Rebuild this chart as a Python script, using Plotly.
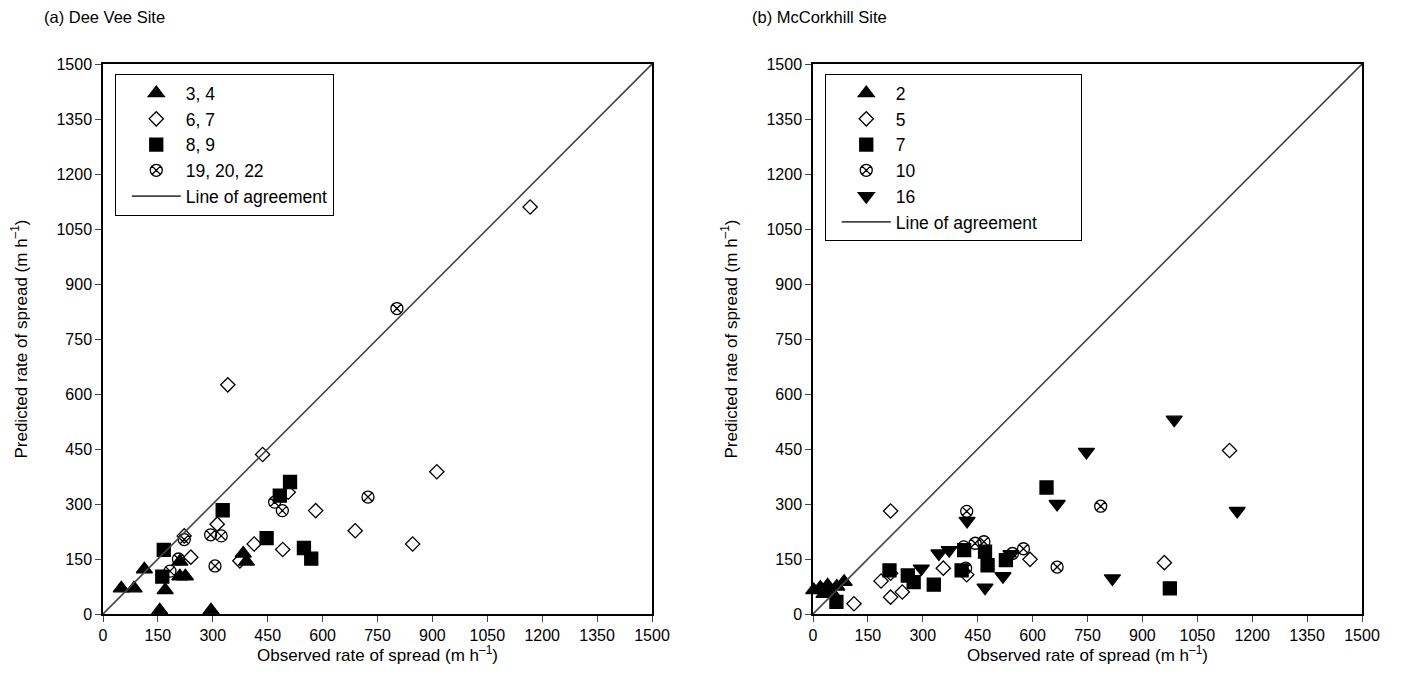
import plotly.graph_objects as go

# ---------------- data: (a) Dee Vee Site ----------------
a_tri_x = [50, 85, 113, 155, 170, 210, 210, 225, 295, 383, 392]
a_tri_y = [70, 70, 122, 10, 65, 143, 103, 103, 10, 165, 143]
a_dia_x = [436, 506, 581, 312, 240, 222, 413, 491, 374, 689, 846, 912, 1167, 341]
a_dia_y = [435, 332, 282, 245, 155, 213, 191, 176, 145, 227, 191, 388, 1110, 625]
a_sq_x = [511, 483, 327, 447, 549, 569, 166, 162]
a_sq_y = [360, 323, 283, 207, 180, 151, 175, 102]
a_cx_x = [222, 206, 183, 294, 323, 306, 469, 490, 724, 803]
a_cx_y = [203, 150, 117, 216, 213, 131, 305, 282, 319, 833]

# ---------------- data: (b) McCorkhill Site ----------------
b_tri_x = [2, 20, 40, 30, 65, 85, 50]
b_tri_y = [65, 72, 78, 55, 75, 88, 60]
b_dia_x = [186, 212, 244, 112, 212, 212, 356, 420, 593, 1138, 960]
b_dia_y = [90, 46, 60, 28, 111, 281, 125, 107, 149, 446, 140]
b_sq_x = [64, 209, 259, 275, 330, 413, 406, 470, 477, 527, 638, 975]
b_sq_y = [33, 119, 105, 87, 80, 174, 119, 170, 133, 147, 345, 70]
b_cx_x = [420, 412, 443, 467, 417, 545, 575, 667, 786]
b_cx_y = [280, 183, 193, 197, 125, 165, 178, 128, 294]
b_td_x = [296, 344, 372, 421, 470, 519, 541, 667, 747, 987, 1159, 818]
b_td_y = [124, 165, 174, 254, 72, 103, 163, 300, 442, 530, 281, 97]

agree = [0, 1500]
ticks = [0, 150, 300, 450, 600, 750, 900, 1050, 1200, 1350, 1500]

FONT = "Liberation Sans, Arial, sans-serif"
NB = "\u00a0"
fig = go.Figure()

def add(x, y, name, symbol, size, xa, ya, leg, lw=1.3):
    fig.add_trace(go.Scatter(
        x=x, y=y, mode="markers", name=name, xaxis=xa, yaxis=ya, legend=leg,
        marker=dict(symbol=symbol, size=size, color="black",
                    line=dict(color="black", width=lw)),
        cliponaxis=False))

def add_line(xa, ya, leg, name):
    fig.add_trace(go.Scatter(
        x=agree, y=agree, mode="lines", name=name,
        xaxis=xa, yaxis=ya, legend=leg,
        line=dict(color="#444444", width=1.6)))

add(a_tri_x, a_tri_y, "3, 4", "triangle-up", 14, "x", "y", "legend")
add(a_dia_x, a_dia_y, "6, 7", "diamond-open", 11, "x", "y", "legend")
add(a_sq_x, a_sq_y, "8, 9", "square", 13, "x", "y", "legend")
add(a_cx_x, a_cx_y, "19, 20, 22", "circle-x-open", 12, "x", "y", "legend")
add_line("x", "y", "legend", "Line of agreement")

add(b_tri_x, b_tri_y, "2", "triangle-up", 14, "x2", "y2", "legend2")
add(b_dia_x, b_dia_y, "5", "diamond-open", 11, "x2", "y2", "legend2")
add(b_sq_x, b_sq_y, "7", "square", 13, "x2", "y2", "legend2")
add(b_cx_x, b_cx_y, "10", "circle-x-open", 12, "x2", "y2", "legend2")
add(b_td_x, b_td_y, "16", "triangle-down", 14, "x2", "y2", "legend2")
add_line("x2", "y2", "legend2", "Line of agreement" + NB * 8)

W, H = 1406, 686
def xdom(l, r):
    return [l / W, r / W]
ydom = [(H - 614) / H, (H - 64) / H]

axis_common = dict(range=[0, 1500], tickvals=ticks, ticks="outside", ticklen=6,
                   tickwidth=1.2, showline=True, linecolor="black", linewidth=1.5,
                   mirror=True, showgrid=False, zeroline=False, automargin=False,
                   tickfont=dict(size=16, color="black", family=FONT))

xt = "Observed rate of spread (m h<sup>–1</sup>)"
yt = "Predicted rate of spread (m h<sup>–1</sup>)"
tf = dict(size=17, color="black", family=FONT)

legend_common = dict(xanchor="left", yanchor="top",
                     bordercolor="black", borderwidth=1.2, bgcolor="white",
                     font=dict(size=17.5, color="black", family=FONT),
                     tracegroupgap=0, itemwidth=49,
                     title=dict(text=NB, side="left", font=dict(size=2)))

fig.update_layout(
    width=W, height=H,
    margin=dict(l=0, r=0, t=0, b=0, pad=0, autoexpand=False),
    paper_bgcolor="white", plot_bgcolor="white",
    font=dict(family=FONT, color="black"),
    xaxis=dict(domain=xdom(103, 652), anchor="y", **axis_common),
    yaxis=dict(domain=ydom, anchor="x", title=dict(text=yt, font=tf, standoff=25), **axis_common),
    xaxis2=dict(domain=xdom(813, 1362), anchor="y2", **axis_common),
    yaxis2=dict(domain=ydom, anchor="x2", title=dict(text=yt, font=tf, standoff=25), **axis_common),
    legend=dict(x=115 / W, y=1 - 74 / H, **legend_common),
    legend2=dict(x=825 / W, y=1 - 74 / H, **legend_common),
    annotations=[
        dict(text="(a) Dee Vee Site", x=42 / W, y=1 - 17 / H, xref="paper", yref="paper",
             xanchor="left", yanchor="middle", showarrow=False,
             font=dict(size=16.5, color="black", family=FONT)),
        dict(text="(b) McCorkhill Site", x=750 / W, y=1 - 17 / H, xref="paper", yref="paper",
             xanchor="left", yanchor="middle", showarrow=False,
             font=dict(size=16.5, color="black", family=FONT)),
        dict(text=xt, x=0.5, xref="x domain", y=1 - 654 / H, yref="paper",
             xanchor="center", yanchor="middle", showarrow=False, font=tf),
        dict(text=xt, x=0.5, xref="x2 domain", y=1 - 654 / H, yref="paper",
             xanchor="center", yanchor="middle", showarrow=False, font=tf),
    ],
)

fig.write_html("out.html")
